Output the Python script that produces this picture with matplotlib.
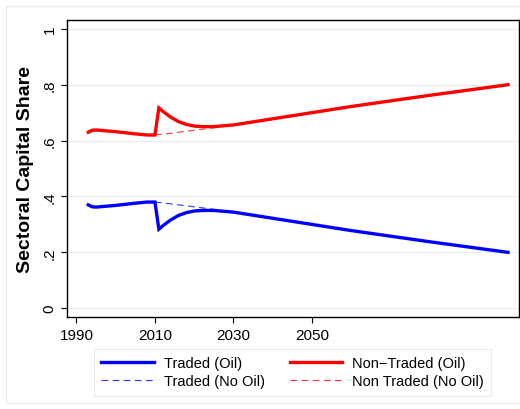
import matplotlib.pyplot as plt
from matplotlib.patches import Rectangle

plt.rcParams['font.family'] = ['Liberation Sans', 'DejaVu Sans']

# Traded sector capital share, with oil shock in 2011
years_oil = [1993, 1994, 1995, 2000, 2005, 2008, 2010, 2011, 2012, 2014, 2016, 2018,
             2020, 2022, 2025, 2030, 2040, 2050, 2060, 2070, 2080, 2090, 2100]
traded_oil = [0.370, 0.363, 0.362, 0.368, 0.376, 0.380, 0.380, 0.283, 0.295, 0.316, 0.332, 0.342,
              0.348, 0.350, 0.350, 0.344, 0.322, 0.300, 0.278, 0.258, 0.238, 0.219, 0.200]
nontraded_oil = [0.630, 0.637, 0.638, 0.632, 0.624, 0.620, 0.620, 0.717, 0.705, 0.684, 0.668, 0.658,
                 0.652, 0.650, 0.650, 0.656, 0.678, 0.700, 0.722, 0.742, 0.762, 0.781, 0.800]

# counterfactual without oil
years_nooil = [2010, 2015, 2020, 2025, 2030, 2040, 2050, 2060, 2070, 2080, 2090, 2100]
traded_nooil = [0.380, 0.372, 0.363, 0.354, 0.345, 0.322, 0.300, 0.278, 0.258, 0.238, 0.219, 0.200]
nontraded_nooil = [0.620, 0.628, 0.637, 0.646, 0.655, 0.678, 0.700, 0.722, 0.742, 0.762, 0.781, 0.800]

yticks = [0, 0.2, 0.4, 0.6, 0.8, 1]
ytick_labels = ['0', '.2', '.4', '.6', '.8', '1']
xticks = [1990, 2010, 2030, 2050]

fig = plt.figure(figsize=(5.2, 4.1), dpi=100)
ax = fig.add_axes([0.129, 0.224, 0.869, 0.725])

l1, = ax.plot(years_oil, traded_oil, color='#0000ff', lw=2.4, solid_joinstyle='miter', zorder=3)
l2, = ax.plot(years_nooil, traded_nooil, color='#3333ff', lw=0.8, ls=(0, (6, 4)), zorder=2)
l3, = ax.plot(years_oil, nontraded_oil, color='#ff0000', lw=2.4, solid_joinstyle='miter', zorder=3)
l4, = ax.plot(years_nooil, nontraded_nooil, color='#ff3333', lw=0.8, ls=(0, (6, 4)), zorder=2)

ax.set_xlim(1987.6, 2102.8)
ax.set_ylim(-0.032, 1.032)
ax.set_xticks(xticks)
ax.set_yticks(yticks)
ax.set_yticklabels(ytick_labels, rotation=90, va='center')
ax.tick_params(axis='both', labelsize=11, direction='out', length=4, width=0.8)
ax.grid(axis='y', color='#e6eef0', lw=0.9)
ax.set_axisbelow(True)
for s in ax.spines.values():
    s.set_color('black')
    s.set_linewidth(1.0)

ax.set_ylabel('Sectoral Capital Share', fontsize=14, fontweight='bold', labelpad=6)

leg = fig.legend([l1, l2, l3, l4],
                 ['Traded (Oil)', 'Traded (No Oil)', 'Non\u2212Traded (Oil)', 'Non Traded (No Oil)'],
                 ncol=2, loc='center', bbox_to_anchor=(0.5625, 0.09), fontsize=10.5,
                 frameon=True, fancybox=False, edgecolor='#e0e8ea', handlelength=3.6,
                 columnspacing=1.7, handletextpad=0.7, borderpad=0.5, labelspacing=0.3)
leg.get_frame().set_linewidth(0.8)

fig.patches.append(Rectangle((6 / 520, 6 / 410), 1.2, 1 - 13 / 410, transform=fig.transFigure,
                             fill=False, edgecolor='#e8eef0', lw=1.0))

fig.savefig('out.png', dpi=100)
